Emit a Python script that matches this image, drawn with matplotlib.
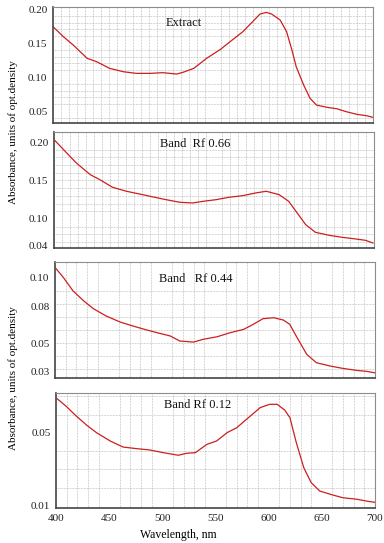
import numpy as np
import matplotlib

matplotlib.use("Agg")
import matplotlib.pyplot as plt

plt.rcParams["font.family"] = ["Liberation Serif", "DejaVu Serif"]

# Extract
wl_extract = [400, 410, 419, 432, 441, 453, 466, 478, 491, 503, 516, 522, 532, 544,
              557, 568, 578, 588, 594, 600, 605, 613, 619, 624, 628, 635, 641, 647,
              657, 666, 675, 685, 694, 700]
abs_extract = [0.174, 0.159, 0.147, 0.1275, 0.1225, 0.1128, 0.1078, 0.1054, 0.1054,
               0.1064, 0.1044, 0.107, 0.1128, 0.1275, 0.1407, 0.1544, 0.1667, 0.1828,
               0.1926, 0.1951, 0.1926, 0.1838, 0.1667, 0.1397, 0.1152, 0.0882, 0.0687,
               0.0588, 0.0554, 0.0534, 0.049, 0.0451, 0.0431, 0.0407]

# Band Rf 0.66
wl_066 = [401, 409, 421, 434, 443, 455, 468, 480, 493, 505, 518, 530, 540, 552, 564,
          577, 589, 599, 611, 620, 628, 636, 645, 658, 670, 683, 692, 699]
abs_066 = [0.2017, 0.190, 0.1727, 0.1576, 0.151, 0.1411, 0.136, 0.1325, 0.1286,
           0.1251, 0.1217, 0.1208, 0.123, 0.1251, 0.1282, 0.1303, 0.1338, 0.136,
           0.1316, 0.123, 0.1078, 0.0926, 0.0827, 0.0788, 0.0762, 0.074, 0.0723,
           0.0688]

# Band Rf 0.44
wl_044 = [401, 408, 417, 427, 436, 448, 461, 473, 486, 498, 508, 517, 530, 539, 552,
          564, 577, 586, 595, 605, 614, 620, 627, 636, 645, 658, 670, 683, 692, 700]
abs_044 = [0.107, 0.1002, 0.0902, 0.0827, 0.0769, 0.0714, 0.0669, 0.0639, 0.0609,
           0.0584, 0.0564, 0.0526, 0.0518, 0.0539, 0.0558, 0.0588, 0.0614, 0.0652,
           0.0694, 0.0701, 0.0684, 0.0652, 0.0551, 0.0426, 0.0363, 0.0338, 0.032,
           0.0305, 0.0298, 0.0287]

# Band Rf 0.12
wl_012 = [401, 410, 419, 429, 438, 451, 463, 476, 488, 501, 515, 523, 531, 542, 551,
          561, 570, 582, 592, 601, 608, 615, 620, 626, 633, 640, 648, 661, 670, 683,
          692, 700]
abs_012 = [0.0688, 0.0644, 0.0593, 0.0542, 0.0502, 0.0456, 0.0423, 0.0414, 0.0407,
           0.0392, 0.0378, 0.0389, 0.0392, 0.0438, 0.0456, 0.0502, 0.0529, 0.0589,
           0.0639, 0.0657, 0.0657, 0.0626, 0.0584, 0.0447, 0.031, 0.0228, 0.0182,
           0.0159, 0.0145, 0.0137, 0.0127, 0.012]

titles = ["Extract", "Band  Rf 0.66", "Band   Rf 0.44", "Band Rf 0.12"]

# tick labels as printed on the original (spacing is not uniform there)
tick_pos = [
    [0.20, 0.15, 0.10, 0.05],
    [0.20, 0.1506, 0.10, 0.065],
    [0.10, 0.0782, 0.0511, 0.030],
    [0.05, 0.01],
]
tick_lab = [
    ["0.20", "0.15", "0.10", "0.05"],
    ["0.20", "0.15", "0.10", "0.04"],
    ["0.10", "0.08", "0.05", "0.03"],
    ["0.05", "0.01"],
]
ylims = [(0.0324, 0.203), (0.0623, 0.213), (0.0248, 0.112), (0.0089, 0.0719)]
ygrid = [(0.20, 0.01), (0.20, 0.01), (0.10, 0.0098), (0.07, 0.01)]
xgrid = [7.5, 7.5, 10.0, 10.0]

# axes boxes in pixels: x0, x1, y0 (top), y1 (bottom)
boxes = [(53, 373, 7, 123), (54, 374, 132, 248), (55, 375, 262, 378), (56, 375, 393, 508)]
title_pos = [(0.41, 0.86), (0.44, 0.90), (0.44, 0.85), (0.445, 0.895)]

W, H = 384, 543
fig = plt.figure(figsize=(W / 100, H / 100), dpi=100)

series = [(wl_extract, abs_extract), (wl_066, abs_066), (wl_044, abs_044), (wl_012, abs_012)]

for i, (wl, ab) in enumerate(series):
    x0, x1, y0, y1 = boxes[i]
    ax = fig.add_axes([x0 / W, (H - y1) / H, (x1 - x0) / W, (y1 - y0) / H])
    ax.plot(wl, ab, color="#cc1f1f", lw=0.9)
    ax.set_xlim(400, 700)
    ax.set_ylim(*ylims[i])

    ax.set_yticks(tick_pos[i])
    ax.set_yticklabels(tick_lab[i])
    ax.set_xticks(np.arange(400, 701, 50))
    if i < 3:
        ax.set_xticklabels([])
    ax.tick_params(axis="both", length=0, labelsize=8, pad=4, colors="#222222")

    ax.set_xticks(np.arange(400, 700.01, xgrid[i]), minor=True)
    top, step = ygrid[i]
    lo = ylims[i][0]
    ax.set_yticks(np.arange(top, lo, -step), minor=True)
    ax.tick_params(which="minor", length=0)
    ax.grid(which="minor", color="#a8a8a8", linestyle=(0, (1, 1.2)), linewidth=0.5)
    ax.grid(which="major", visible=False)
    ax.set_axisbelow(True)

    for side in ["top", "right"]:
        ax.spines[side].set_color("#8c8c8c")
        ax.spines[side].set_linewidth(0.8)
    for side in ["left", "bottom"]:
        ax.spines[side].set_color("#444444")
        ax.spines[side].set_linewidth(1.2)

    tx, ty = title_pos[i]
    ax.text(tx, ty, titles[i], transform=ax.transAxes, ha="center", va="center",
            fontsize=9, color="#111111")

fig.text(178 / W, 1 - 535 / H, "Wavelength, nm", ha="center", va="center", fontsize=8.5)
fig.text(13 / W, 1 - 132 / H, "Absorbance, units of opt.density", rotation=90,
         ha="center", va="center", fontsize=8)
fig.text(13 / W, 1 - 378 / H, "Absorbance, units of opt.density", rotation=90,
         ha="center", va="center", fontsize=8)

fig.savefig("out.png", dpi=100)
